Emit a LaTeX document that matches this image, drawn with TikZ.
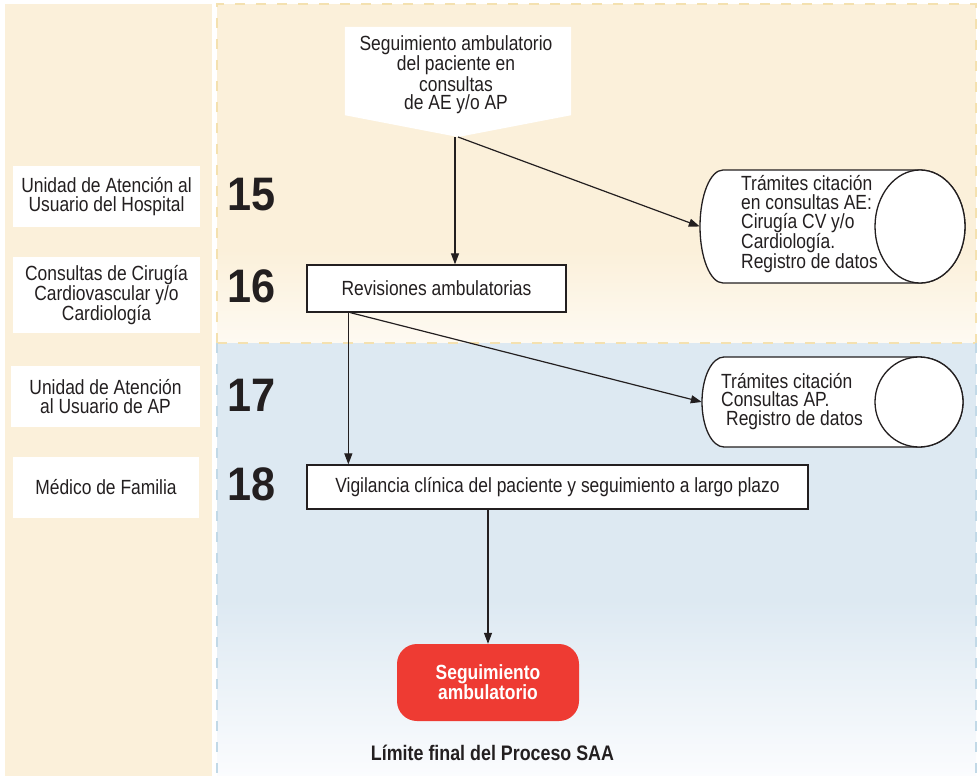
\documentclass[tikz,border=0pt]{standalone}
\usepackage{fontspec}
\setmainfont{Liberation Sans}[FakeStretch=0.85]
\newfontfamily\numfont{Liberation Sans}[FakeStretch=0.92]
\usetikzlibrary{arrows.meta}

\definecolor{beige}{HTML}{FBF0DA}
\definecolor{beigefade}{HTML}{FEFAF2}
\definecolor{beigedash}{HTML}{F4E1B0}
\definecolor{paleblue}{HTML}{DDE9F2}
\definecolor{bluefade}{HTML}{FBFCFE}
\definecolor{bluedash}{HTML}{C2D9E7}
\definecolor{alarm}{HTML}{EE3B33}
\definecolor{ink}{HTML}{231F20}

\tikzset{
  txt/.style={font=\fontsize{20.5}{18.7}\selectfont, text=ink},
  lanebox/.style={fill=white, minimum width=187pt, inner sep=0pt, align=center, txt},
  stepnum/.style={font=\numfont\bfseries\fontsize{47}{47}\selectfont, text=ink, anchor=base west, inner sep=0pt},
  procbox/.style={draw=ink, line width=1.3pt, fill=white, inner sep=0pt, txt},
  cylbody/.style={draw=ink, line width=1.3pt, fill=white},
  conn/.style={draw=ink, line width=1.2pt, -{Triangle[length=11pt,width=8pt]}},
  border/.style={line width=2pt, dash pattern=on 10pt off 11pt},
}

\begin{document}
\begin{tikzpicture}[x=1pt,y=-1pt]
\useasboundingbox (0,0) rectangle (977,776);
\fill[white] (0,0) rectangle (977,776);

% lane column
\fill[beige] (5,4) rectangle (212,776);

% hospital band
\fill[beige] (217,4) rectangle (976,250);
\shade[top color=beige, bottom color=beigefade] (217,250) rectangle (976,343);

% primary care band
\fill[paleblue] (217,343) rectangle (976,600);
\shade[top color=paleblue, bottom color=bluefade] (217,600) rectangle (976,776);

% band borders
\draw[border, beigedash] (217,343) -- (217,4) -- (976,4) -- (976,343);
\draw[border, beigedash] (217,343) -- (976,343);
\draw[border, bluedash] (217,343) -- (217,776);
\draw[border, bluedash] (976,343) -- (976,776);

% lanes
\node[lanebox, minimum height=61pt] (laneA) at (106.5,196.5) {Unidad de Atención al\\Usuario del Hospital};
\node[lanebox, minimum height=76pt] (laneB) at (106.5,295) {Consultas de Cirugía\\Cardiovascular y/o\\Cardiología};
\node[lanebox, minimum width=189pt, minimum height=61pt] (laneC) at (105.5,396.5) {Unidad de Atención\\al Usuario de AP};
\node[lanebox, minimum width=186pt, minimum height=61pt] (laneD) at (106,487.5) {Médico de Familia};

% step numbers
\node[stepnum] (n15) at (227,210) {15};
\node[stepnum] (n16) at (227,302) {16};
\node[stepnum] (n17) at (227,411) {17};
\node[stepnum] (n18) at (227,500) {18};

% document shape
\node[inner sep=0pt, minimum width=226pt, minimum height=88pt] (docbox) at (458,71) {};
\coordinate (doctip) at (458,137);
\fill[white] (docbox.north west) -- (docbox.north east) -- (docbox.south east)
  -- (doctip) -- (docbox.south west) -- cycle;
\node[txt, align=center, inner sep=0pt] (doc) at (456,75)
  {Seguimiento ambulatorio\\del paciente en\\consultas\\de AE y/o AP};

% process boxes
\node[procbox, minimum width=259pt, minimum height=47pt] (rev) at (436.5,288.5) {Revisiones ambulatorias};
\node[procbox, minimum width=501pt, minimum height=44pt] (vig) at (557.5,487)
  {Vigilancia clínica del paciente y seguimiento a largo plazo};

% terminal
\node[fill=alarm, rounded corners=20pt, minimum width=182pt, minimum height=77pt,
  text=white, font=\bfseries\fontsize{20.5}{18.5}\selectfont, align=center] (fin) at (488,682.5)
  {Seguimiento\\ambulatorio};
\node[font=\bfseries\fontsize{21}{21}\selectfont, text=ink, inner sep=0pt] (limit) at (492.5,753)
  {Límite final del Proceso SAA};

% data stores
\node[inner sep=0pt, minimum width=265pt, minimum height=113pt] (cylA) at (832.5,226.5) {};
\draw[cylbody] (723,170) arc[start angle=90, end angle=270, x radius=23pt, y radius=56.5pt]
  -- (920,283) arc[start angle=270, end angle=450, x radius=45pt, y radius=56.5pt] -- cycle;
\draw[cylbody] (920,226.5) ellipse [x radius=45pt, y radius=56.5pt];
\node[txt, anchor=west, align=left, inner sep=0pt] (cylAtxt) at (741,224.5)
  {Trámites citación\\en consultas AE:\\Cirugía CV y/o\\Cardiología.\\Registro de datos};

\node[inner sep=0pt, minimum width=261pt, minimum height=90pt] (cylB) at (832.5,402) {};
\draw[cylbody] (724,357) arc[start angle=90, end angle=270, x radius=22pt, y radius=45pt]
  -- (919,447) arc[start angle=270, end angle=450, x radius=44pt, y radius=45pt] -- cycle;
\draw[cylbody] (919,402) ellipse [x radius=44pt, y radius=45pt];
\node[txt, anchor=west, align=left, inner sep=0pt] (cylBtxt) at (721,401.5)
  {Trámites citación\\Consultas AP.\\\hspace*{5pt}Registro de datos};

% connectors
\coordinate (docout) at ([xshift=-3pt]doctip);
\draw[conn] (docout) -- (docout |- rev.north);
\draw[conn] (doctip) -- (cylA.west);
\coordinate (revout) at ([xshift=42pt]rev.south west);
\draw[conn] (revout) -- (revout |- vig.north);
\draw[conn] ([xshift=2pt]revout) -- (cylB.west);
\draw[conn] (vig.south -| fin.north) -- (fin.north);
\end{tikzpicture}
\end{document}
